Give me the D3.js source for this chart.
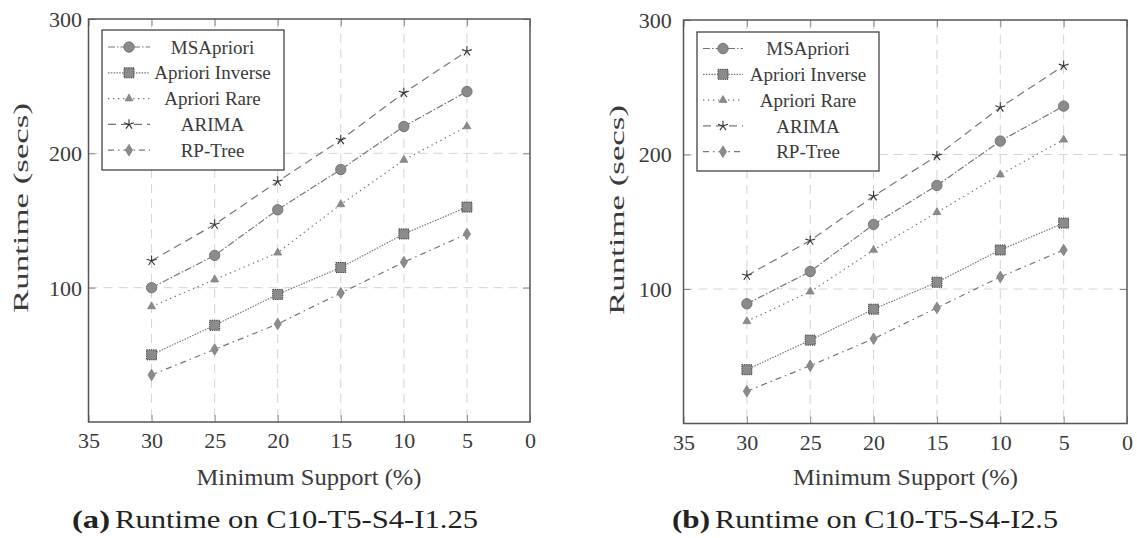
<!DOCTYPE html>
<html>
<head>
<meta charset="utf-8">
<script src="https://cdn.jsdelivr.net/npm/d3@7"></script>
<style>
  html, body { margin: 0; padding: 0; background: #fff; }
  svg { display: block; }
  svg text { font-family: "Liberation Serif", "Times New Roman", serif; }
</style>
</head>
<body>
<svg id="fig" width="1137" height="538"></svg>
<script>
// ---- data ----
const supportLevels = [30, 25, 20, 15, 10, 5];
const xTickValues = [35, 30, 25, 20, 15, 10, 5, 0];
const yTickValues = [100, 200, 300];
const seriesNames = ["MSApriori", "Apriori Inverse", "Apriori Rare", "ARIMA", "RP-Tree"];

// runtimes (secs) on C10-T5-S4-I1.25
const msaprioriI125 = [100, 124, 158, 188, 220, 246];
const inverseI125   = [50, 72, 95, 115, 140, 160];
const rareI125      = [86, 106, 126, 162, 195, 220];
const arimaI125     = [120, 147, 179, 210, 245, 276];
const rptreeI125    = [35, 54, 73, 96, 119, 140];

// runtimes (secs) on C10-T5-S4-I2.5
const msaprioriI25 = [89, 113, 148, 177, 210, 236];
const inverseI25   = [40, 62, 85, 105, 129, 149];
const rareI25      = [76, 98, 129, 157, 185, 211];
const arimaI25     = [110, 136, 169, 199, 235, 266];
const rptreeI25    = [24, 43, 63, 86, 109, 129];

const captionTags = ["(a)", "(b)"];
const captionTexts = ["Runtime on C10-T5-S4-I1.25", "Runtime on C10-T5-S4-I2.5"];
const xTitle = "Minimum Support (%)";
const yTitle = "Runtime (secs)";

// ---- styles ----
const FONT = "'Liberation Serif', 'Times New Roman', serif";
const seriesStyle = [
  { dash: "7,2,1.5,2", marker: "circle" },
  { dash: "1.5,1.3", marker: "square" },
  { dash: "1.4,3.6", marker: "triangle" },
  { dash: "8,5", marker: "star" },
  { dash: "6,4,1.5,4", marker: "diamond" }
];
const LINE = "#777";
const FILL = "#8b8b8b";
const TEXT = "#3a3a3a";

const panels = [
  {
    series: [msaprioriI125, inverseI125, rareI125, arimaI125, rptreeI125],
    x0: 88.5, x1: 530, yTop: 19, yBot: 422,
    legend: { x: 102, y: 30, w: 182, h: 140, row0: 47, pitch: 25.8, lx0: 108, lx1: 150, tx: 212.5 },
    yLab: { x: 21, y: 208 }, yTickX: 82,
    xTitleX: 309, capTagEnd: 110, capStart: 115, capLen: 363
  },
  {
    series: [msaprioriI25, inverseI25, rareI25, arimaI25, rptreeI25],
    x0: 683.5, x1: 1127, yTop: 20, yBot: 423.5,
    legend: { x: 697, y: 32, w: 182, h: 139, row0: 48.5, pitch: 25.8, lx0: 703, lx1: 743, tx: 808 },
    yLab: { x: 617, y: 210 }, yTickX: 671.7,
    xTitleX: 905.5, capTagEnd: 710, capStart: 715, capLen: 343
  }
];

const svg = d3.select("#fig");

function drawMarker(g, type, x, y) {
  if (type === "circle") {
    g.append("circle").attr("cx", x).attr("cy", y).attr("r", 5.2)
      .attr("fill", FILL).attr("stroke", "#666").attr("stroke-width", 0.8);
  } else if (type === "square") {
    g.append("rect").attr("x", x - 5).attr("y", y - 5).attr("width", 10).attr("height", 10)
      .attr("fill", FILL).attr("stroke", "#333").attr("stroke-width", 1)
      .attr("stroke-dasharray", "1.2,1");
  } else if (type === "triangle") {
    const r = 4.6;
    const pts = [[0, -r], [r * 0.866, r * 0.5], [-r * 0.866, r * 0.5]]
      .map(p => [x + p[0], y + p[1]].join(",")).join(" ");
    g.append("polygon").attr("points", pts)
      .attr("fill", FILL).attr("stroke", "#7a7a7a").attr("stroke-width", 0.7);
  } else if (type === "star") {
    const r = 5.2;
    for (let k = 0; k < 5; k++) {
      const a = -Math.PI / 2 + k * 2 * Math.PI / 5;
      g.append("line").attr("x1", x).attr("y1", y)
        .attr("x2", x + r * Math.cos(a)).attr("y2", y + r * Math.sin(a))
        .attr("stroke", "#333").attr("stroke-width", 1.1);
    }
  } else if (type === "diamond") {
    const pts = [[0, -5.8], [3.6, 0], [0, 5.8], [-3.6, 0]]
      .map(p => [x + p[0], y + p[1]].join(",")).join(" ");
    g.append("polygon").attr("points", pts)
      .attr("fill", FILL).attr("stroke", "#777").attr("stroke-width", 0.7);
  }
}

panels.forEach((p, pi) => {
  const x = d3.scaleLinear().domain([35, 0]).range([p.x0, p.x1]);
  const y = d3.scaleLinear().domain([0, 300]).range([p.yBot, p.yTop]);
  const g = svg.append("g").attr("font-family", FONT);

  // grid
  const grid = g.append("g").attr("stroke", "#d4d4d4").attr("stroke-width", 1)
    .attr("stroke-dasharray", "9,6");
  supportLevels.forEach(v => {
    grid.append("line").attr("x1", x(v)).attr("x2", x(v))
      .attr("y1", p.yTop).attr("y2", p.yBot);
  });
  yTickValues.filter(v => v < 300).forEach(v => {
    grid.append("line").attr("x1", p.x0).attr("x2", p.x1)
      .attr("y1", y(v)).attr("y2", y(v));
  });

  // axes via d3 axis generators (ticks drawn inward on both sides)
  const axB = d3.axisBottom(x).tickValues(xTickValues).tickSize(-7).tickFormat(d3.format("d"));
  const axT = d3.axisTop(x).tickValues(xTickValues).tickSize(-7).tickFormat("");
  const axL = d3.axisLeft(y).tickValues(yTickValues).tickSize(-7).tickFormat(d3.format("d"));
  const axR = d3.axisRight(y).tickValues(yTickValues).tickSize(-7).tickFormat("");

  const styleAxis = (sel) => {
    sel.attr("font-family", FONT).attr("font-size", 22);
    sel.select(".domain").remove();
    sel.selectAll(".tick line").attr("stroke", "#8a8a8a").attr("stroke-width", 1);
    sel.selectAll(".tick text").attr("fill", TEXT).attr("font-size", 22)
      .attr("font-family", FONT);
  };
  const gb = g.append("g").attr("transform", `translate(0,${p.yBot})`).call(axB).call(styleAxis);
  gb.selectAll(".tick text").attr("dy", null).attr("y", 26);
  g.append("g").attr("transform", `translate(0,${p.yTop})`).call(axT).call(styleAxis);
  const gl = g.append("g").attr("transform", `translate(${p.x0},0)`).call(axL).call(styleAxis);
  gl.selectAll(".tick text").attr("x", p.yTickX - p.x0).attr("dy", "0.34em");
  g.append("g").attr("transform", `translate(${p.x1},0)`).call(axR).call(styleAxis);

  // frame
  g.append("rect").attr("x", p.x0).attr("y", p.yTop)
    .attr("width", p.x1 - p.x0).attr("height", p.yBot - p.yTop)
    .attr("fill", "none").attr("stroke", "#555").attr("stroke-width", 1.5);

  // series lines and markers
  const line = d3.line().x((d, i) => x(supportLevels[i])).y(d => y(d));
  p.series.forEach((vals, si) => {
    g.append("path").datum(vals).attr("d", line)
      .attr("fill", "none").attr("stroke", LINE).attr("stroke-width", 1.2)
      .attr("stroke-dasharray", seriesStyle[si].dash);
  });
  p.series.forEach((vals, si) => {
    const mg = g.append("g");
    vals.forEach((v, i) => drawMarker(mg, seriesStyle[si].marker, x(supportLevels[i]), y(v)));
  });

  // legend
  const L = p.legend;
  const lg = g.append("g");
  lg.append("rect").attr("x", L.x).attr("y", L.y).attr("width", L.w).attr("height", L.h)
    .attr("fill", "#fff").attr("stroke", "#444").attr("stroke-width", 1.3);
  seriesNames.forEach((name, si) => {
    const ry = L.row0 + si * L.pitch;
    lg.append("line").attr("x1", L.lx0).attr("x2", L.lx1).attr("y1", ry).attr("y2", ry)
      .attr("stroke", LINE).attr("stroke-width", 1.2)
      .attr("stroke-dasharray", seriesStyle[si].dash);
    drawMarker(lg, seriesStyle[si].marker, (L.lx0 + L.lx1) / 2, ry);
    lg.append("text").attr("x", L.tx).attr("y", ry).attr("dy", "0.35em")
      .attr("font-family", FONT)
      .attr("text-anchor", "middle").attr("font-size", 19).attr("fill", TEXT).text(name);
  });

  // axis titles
  g.append("text").attr("x", p.xTitleX).attr("y", 485).attr("text-anchor", "middle")
    .attr("font-family", FONT).attr("font-size", 23).attr("fill", TEXT)
    .attr("textLength", 225).attr("lengthAdjust", "spacingAndGlyphs").text(xTitle);
  g.append("text")
    .attr("transform", `translate(${p.yLab.x},${p.yLab.y}) rotate(-90)`)
    .attr("text-anchor", "middle").attr("dy", "0.3em")
    .attr("font-family", FONT).attr("font-size", 22).attr("fill", TEXT)
    .attr("textLength", 210).attr("lengthAdjust", "spacingAndGlyphs").text(yTitle);

  // caption
  g.append("text").attr("x", p.capTagEnd).attr("y", 528).attr("text-anchor", "end")
    .attr("font-family", FONT)
    .attr("font-size", 25).attr("font-weight", "bold").attr("fill", "#222")
    .attr("textLength", 38).attr("lengthAdjust", "spacingAndGlyphs").text(captionTags[pi]);
  g.append("text").attr("x", p.capStart).attr("y", 528).attr("text-anchor", "start")
    .attr("font-family", FONT)
    .attr("font-size", 25).attr("fill", "#222")
    .attr("textLength", p.capLen).attr("lengthAdjust", "spacingAndGlyphs").text(captionTexts[pi]);
});
</script>
</body>
</html>
